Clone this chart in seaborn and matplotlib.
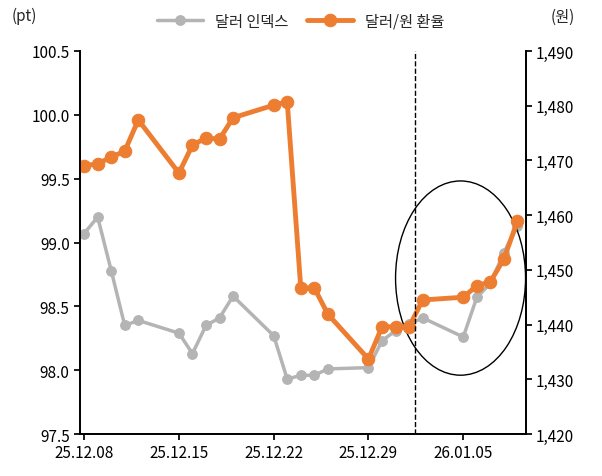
import matplotlib
matplotlib.use("Agg")
import matplotlib.pyplot as plt
import seaborn as sns
import pandas as pd
from matplotlib.patches import Ellipse

sns.set_theme(style="white")
plt.rcParams['font.family'] = ['Noto Sans CJK KR', 'DejaVu Sans']

days = [0,1,2,3,4,7,8,9,10,11,14,15,16,17,18,21,22,23,24,25,28,29,30,31,32]
dxy = [99.07,99.20,98.78,98.35,98.39,98.29,98.13,98.35,98.41,98.58,98.27,97.93,97.96,97.96,98.01,
       98.02,98.23,98.31,98.36,98.41,98.26,98.57,98.68,98.92,99.13]
krw = [1469.0,1469.4,1470.6,1471.7,1477.4,1467.7,1472.8,1474.1,1473.9,1477.8,1480.1,1480.7,1446.7,1446.7,1441.9,
       1433.7,1439.6,1439.6,1439.6,1444.5,1445.0,1447.1,1447.8,1452.0,1458.9]
tick_days = [0,7,14,21,28]
tick_labels = ["25.12.08","25.12.15","25.12.22","25.12.29","26.01.05"]
df = pd.DataFrame({"day": days, "dxy": dxy, "krw": krw})

gray = "#b4b4b4"; orange = "#ed7d31"
fig = plt.figure(figsize=(6.02, 4.77), dpi=100)
ax = fig.add_axes([0.133, 0.088, 0.74, 0.803])
ax2 = ax.twinx()
sns.lineplot(data=df, x="day", y="dxy", ax=ax, color=gray, lw=2.5, marker="o", ms=7, mec=gray, label="달러 인덱스", legend=False)
sns.lineplot(data=df, x="day", y="krw", ax=ax2, color=orange, lw=3.5, marker="o", ms=9, mec=orange, label="달러/원 환율", legend=False)
ax.set_zorder(ax2.get_zorder()+1); ax.patch.set_visible(False)
# put gray behind? reference: orange on top of gray
ax.set_zorder(0); ax2.set_zorder(1); ax2.patch.set_visible(False); ax.patch.set_visible(True)

ax.set_xlim(-0.3, 32.6)
ax.set_ylim(97.5, 100.5)
ax2.set_ylim(1420, 1490)
ax.set_yticks([97.5,98.0,98.5,99.0,99.5,100.0,100.5])
ax.set_yticklabels([f"{v:.1f}" for v in ax.get_yticks()])
ax2.set_yticks(range(1420,1491,10))
ax2.set_yticklabels([f"{v:,}" for v in range(1420,1491,10)])
ax.set_xticks(tick_days); ax.set_xticklabels(tick_labels)
ax.set_xlabel(""); ax.set_ylabel(""); ax2.set_ylabel("")
for a in (ax, ax2):
    a.tick_params(labelsize=11, length=4, direction="out", colors="black")
    for s in a.spines.values(): s.set_color("black")
    a.spines["top"].set_visible(False)
ax.tick_params(axis="both", left=True, bottom=True)
ax2.tick_params(right=True)
ax2.axvline(24.4, color="black", ls="--", lw=1)
ax2.add_patch(Ellipse((27.8, 1448.5), 9.6, 35.5, fill=False, ec="black", lw=1))
fig.text(0.02, 0.955, "(pt)", fontsize=11)
fig.text(0.915, 0.955, "(원)", fontsize=11)
h1, l1 = ax.get_legend_handles_labels(); h2, l2 = ax2.get_legend_handles_labels()
fig.legend(h1+h2, l1+l2, loc="upper center", bbox_to_anchor=(0.5, 1.0), ncol=2, frameon=False, fontsize=11, handlelength=3, columnspacing=1.2)
fig.savefig("out.png", dpi=100)
